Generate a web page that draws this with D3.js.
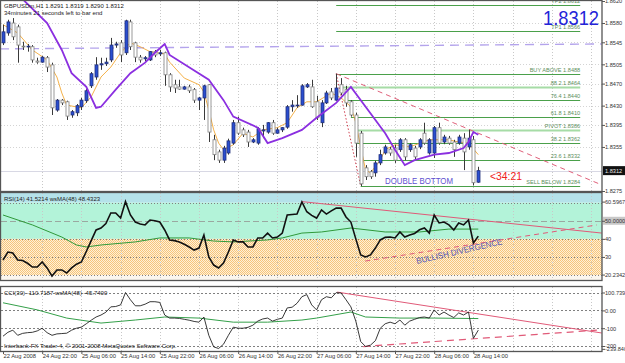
<!DOCTYPE html>
<html><head><meta charset="utf-8">
<script src="https://cdn.jsdelivr.net/npm/d3@7"></script>
<style>body{margin:0;background:#fff}svg{display:block;font-family:"Liberation Sans",Arial,sans-serif}</style>
</head><body><svg id="c" width="625" height="363"></svg>
<script>
// ---------- DATA ----------
const open=[1.8544,1.8562,1.8580,1.8573,1.8538,1.8537,1.8537,1.8511,1.8509,1.8517,
1.8504,1.8422,1.8440,1.8437,1.8413,1.8417,1.8428,1.8439,1.8466,1.8482,
1.8504,1.8506,1.8513,1.8540,1.8544,1.8526,1.8582,1.8544,1.8518,1.8515,
1.8513,1.8528,1.8524,1.8526,1.8486,1.8468,1.8464,1.8460,1.8464,1.8459,
1.8440,1.8444,1.8468,1.8368,1.8346,1.8331,1.8344,1.8362,1.8399,1.8386,
1.8382,1.8364,1.8362,1.8384,1.8382,1.8399,1.8380,1.8386,1.8391,1.8428,
1.8430,1.8431,1.8464,1.8464,1.8437,1.8399,1.8435,1.8455,1.8440,1.8468,
1.8459,1.8437,1.8413,1.8380,1.8317,1.8310,1.8308,1.8326,1.8344,1.8351,
1.8353,1.8350,1.8368,1.8350,1.8353,1.8355,1.8380,1.8344,1.8344,1.8390,
1.8364,1.8371,1.8364,1.8362,1.8371,1.8355,1.8368,1.8291];
const high=[1.8577,1.8586,1.8589,1.8577,1.8546,1.8542,1.8540,1.8517,1.8520,1.8520,
1.8508,1.8442,1.8442,1.8439,1.8422,1.8433,1.8444,1.8460,1.8491,1.8518,
1.8517,1.8517,1.8553,1.8546,1.8549,1.8586,1.8586,1.8546,1.8522,1.8520,
1.8529,1.8531,1.8531,1.8528,1.8489,1.8477,1.8477,1.8466,1.8468,1.8462,
1.8446,1.8468,1.8469,1.8377,1.8350,1.8357,1.8370,1.8404,1.8410,1.8390,
1.8386,1.8371,1.8391,1.8395,1.8400,1.8404,1.8390,1.8391,1.8431,1.8440,
1.8449,1.8469,1.8471,1.8477,1.8448,1.8440,1.8457,1.8462,1.8488,1.8480,
1.8466,1.8440,1.8417,1.8384,1.8322,1.8313,1.8330,1.8350,1.8359,1.8355,
1.8359,1.8371,1.8371,1.8362,1.8357,1.8371,1.8399,1.8371,1.8393,1.8399,
1.8377,1.8375,1.8368,1.8377,1.8380,1.8386,1.8375,1.8319];
const low=[1.8540,1.8557,1.8549,1.8508,1.8531,1.8528,1.8508,1.8506,1.8508,1.8491,
1.8413,1.8419,1.8431,1.8404,1.8408,1.8411,1.8422,1.8435,1.8462,1.8477,
1.8495,1.8502,1.8509,1.8535,1.8509,1.8522,1.8531,1.8509,1.8508,1.8511,
1.8511,1.8518,1.8520,1.8466,1.8455,1.8453,1.8459,1.8459,1.8453,1.8435,
1.8422,1.8404,1.8364,1.8331,1.8326,1.8326,1.8341,1.8359,1.8377,1.8373,
1.8355,1.8362,1.8359,1.8371,1.8379,1.8377,1.8379,1.8382,1.8388,1.8419,
1.8426,1.8430,1.8462,1.8426,1.8404,1.8391,1.8433,1.8440,1.8439,1.8449,
1.8428,1.8410,1.8337,1.8284,1.8295,1.8297,1.8301,1.8322,1.8341,1.8339,
1.8326,1.8346,1.8331,1.8346,1.8333,1.8351,1.8359,1.8341,1.8335,1.8359,
1.8360,1.8359,1.8337,1.8359,1.8313,1.8350,1.8285,1.8290];
const close=[1.8564,1.8582,1.8555,1.8540,1.8537,1.8538,1.8513,1.8509,1.8518,1.8500,
1.8426,1.8440,1.8435,1.8411,1.8419,1.8430,1.8440,1.8457,1.8488,1.8504,
1.8506,1.8509,1.8540,1.8542,1.8522,1.8584,1.8537,1.8518,1.8513,1.8517,
1.8528,1.8522,1.8526,1.8486,1.8464,1.8462,1.8460,1.8464,1.8457,1.8440,
1.8444,1.8466,1.8382,1.8341,1.8331,1.8353,1.8366,1.8399,1.8380,1.8377,
1.8364,1.8368,1.8388,1.8386,1.8399,1.8380,1.8386,1.8390,1.8428,1.8431,
1.8431,1.8466,1.8468,1.8428,1.8408,1.8435,1.8453,1.8444,1.8462,1.8453,
1.8435,1.8413,1.8362,1.8288,1.8301,1.8301,1.8326,1.8341,1.8355,1.8344,
1.8331,1.8368,1.8337,1.8359,1.8337,1.8368,1.8362,1.8368,1.8390,1.8362,
1.8373,1.8362,1.8350,1.8373,1.8346,1.8371,1.8290,1.8312];

const purpleIdx=[3,9,12,14,17,19,20,23,26,29,31,33,34,42,45,47,52,54,57,61,64,68,71,74,78,80,82,84,88,91,94,95,96,97];
const purpleVal=[1.8632,1.8580,1.8531,1.8489,1.8464,1.8426,1.8428,1.8459,1.8489,1.8508,1.8526,1.8542,1.8522,1.8477,1.8440,1.8410,1.8390,1.8362,1.8371,1.8386,1.8408,1.8435,1.8464,1.8428,1.8380,1.8350,1.8322,1.8331,1.8341,1.8344,1.8353,1.8364,1.8382,1.8377];
const orangeIdx=[0,3,6,9,11,12,13,16,18,20,22,24,26,28,30,33,34,37,40,41,42,43,44,45,47,49,51,53,56,58,60,62,64,67,69,71,72,73,74,75,77,78,80,83,87,91,93,95,97];
const orangeVal=[1.8577,1.8562,1.8531,1.8513,1.8482,1.8453,1.8431,1.8426,1.8446,1.8482,1.8500,1.8526,1.8544,1.8537,1.8528,1.8524,1.8509,1.8480,1.8468,1.8455,1.8422,1.8386,1.8362,1.8350,1.8359,1.8380,1.8373,1.8386,1.8390,1.8399,1.8426,1.8437,1.8437,1.8453,1.8444,1.8428,1.8399,1.8355,1.8313,1.8308,1.8331,1.8350,1.8359,1.8355,1.8368,1.8368,1.8364,1.8362,1.8341];

const fibLabels=["TP2 1.8612","TP1 1.8566","BUY ABOVE 1.8488","88.2  1.8464","76.4  1.8440","61.8  1.8410","PIVOT  1.8386","38.2  1.8362","23.6  1.8332","SELL BELOW  1.8284"];
const fibValues=[1.8612,1.8566,1.8488,1.8464,1.8440,1.8410,1.8386,1.8362,1.8332,1.8284];
const fibStart=[68,68,68,69,70,71,72,72,73,73];
const fibEnd=117.8;

const rsi=[28.3,32.7,32.2,28.3,28,26.5,24.4,24.4,27.2,23.9,
19.4,22.8,22.8,21.1,23.9,26,27.2,33,39,44.9,
46,48.5,54.3,54.3,51.5,60.5967,53.2,49.3,48.2,47.7,
50.4,50,49.3,44.9,39.4,39,38.3,37,35.5,33.8,
34.9,42.1,30,25.5,23.9,26.6,32.7,39.4,38.3,38.3,
35.5,35.5,40.5,40.5,43.2,40.5,41,43.2,53.2,53.5,
53.7,60.4,55,53,51.5,56,53.7,55.5,57.1,57,
52.1,49.3,40,31.1,30,31.1,34.9,39.4,40.8,41,
40.5,43.8,41,42.1,43,45,46,43.2,53.2,48.8,
49.3,47.7,44.9,48.8,47.7,50.4,37.7,41.5214];
const rsiMaIdx=[0,6,12,15,17,20,27,32,38,43,47,54,57,61,65,71,78,85,91,97];
const rsiMaVal=[53.2,47.7,41,36.6,35.5,36.6,38.3,40.5,40.5,38.8,38.3,39.4,40.5,43.2,43.8,46,43.8,43.8,45.4,45.4];
const cci=[-145,-123,-111,-140,-129,-125,-123,-115,-100,-125,
-140,-132,-130,-128,-111,-100,-94,-75,-55,-37,
-26,-10,20,22,31,100.739,60,26,26,35,
49,49,45,-26,-43,-43,-45,-50,-55,-62,
-66,-37,-140,-205,-214,-190,-140,-94,-100,-100,
-95,-83,-60,-48,-43,-60,-50,-43,14,18,
40,77,89,31,3,60,77,71,100,98,
60,20,-60,-175,-203,-195,-170,-100,-75,-66,
-75,-54,-83,-60,-50,-40,-37,-43,3,-26,
-9,-26,-40,-14,-26,-9,-157,-110.7187];
const cciMaIdx=[0,7,13,20,27,33,40,47,54,61,64,71,74,81,88,97];
const cciMaVal=[43,3,-43,-71,-54,-37,-43,-66,-66,-54,-43,-9,-37,-43,-43,-45.74];

const priceTicks=[1.8620,1.8580,1.8545,1.8505,1.8470,1.8430,1.8395,1.8355,1.8275];
const rsiTicks=["60.5967","50.0000","40","30","20.2342"];
const rsiTickVals=[60.5967,50,40,30,20.2342];
const cciTicks=["100.739","0.00","-100","-200","-239.840"];
const cciTickVals=[100.739,0,-100,-200,-216];
const timeLabels=["22 Aug 2008","24 Aug 22:00","25 Aug 06:00","25 Aug 14:00","25 Aug 22:00","26 Aug 06:00","26 Aug 14:00","26 Aug 22:00","27 Aug 06:00","27 Aug 14:00","27 Aug 22:00","28 Aug 06:00","28 Aug 14:00"];
const timeIdx=[0,8,16,24,32,40,48,56,64,72,80,88,96];

// trend lines [idx0,val0,idx1,val1]
const mainTrendDash=[68,1.8488,122.2,1.8286];
const mainTrendDot=[68,1.8488,73,1.8284];
const lavenderLine=[-0.6,1.8533,122.2,1.8542];
const rsiTrendSolid=[61,60.6,122.2,43.2];
const rsiTrendDash=[73.9,27.7,121.2,47.7];
const cciTrendSolid=[68.2,103,122.2,-127];
const cciTrendDash=[73.5,-203,121.2,-111];

// ---------- LAYOUT ----------
const svg=d3.select("#c");
const R=602;
const P={main:[1,191],rsi:[193,280],cci:[287,351]};
const x=d3.scaleLinear().domain([0,97]).range([3,478.3]);
const yP=d3.scaleLinear().domain([1.8275,1.8620]).range([191,1]);
const yR=d3.scaleLinear().domain([20,60]).range([275,202.7]);
const yC=d3.scaleLinear().domain([-200,100.739]).range([346,292.5]);
const fs=6;

const defs=svg.append("defs");
const pat=defs.append("pattern").attr("id","dots").attr("width",2).attr("height",2).attr("patternUnits","userSpaceOnUse");
pat.append("rect").attr("width",2).attr("height",2).attr("fill","#fff1d6");
pat.append("rect").attr("width",1).attr("height",1).attr("fill","#f6c47c");
pat.append("rect").attr("x",1).attr("y",1).attr("width",1).attr("height",1).attr("fill","#f6c47c");
Object.entries(P).forEach(([k,[t,b]])=>{
  defs.append("clipPath").attr("id","clip-"+k).append("rect").attr("x",1).attr("y",t).attr("width",R-1).attr("height",b-t);
});

svg.append("rect").attr("width",625).attr("height",363).attr("fill","#fff");

// RSI zones
const gR=svg.append("g").attr("clip-path","url(#clip-rsi)");
gR.append("rect").attr("x",1).attr("width",R-1).attr("y",P.rsi[0]).attr("height",yR(60)-P.rsi[0]).attr("fill","#b5e2ea");
gR.append("rect").attr("x",1).attr("width",R-1).attr("y",yR(60)).attr("height",yR(40)-yR(60)).attr("fill","#b3f3d9");
gR.append("rect").attr("x",1).attr("width",R-1).attr("y",yR(40)).attr("height",yR(20)-yR(40)).attr("fill","url(#dots)");
gR.append("rect").attr("x",1).attr("width",R-1).attr("y",yR(20)).attr("height",P.rsi[1]-yR(20)).attr("fill","#fbf6ee");

// vertical grid
[P.main,P.rsi,P.cci].forEach(([t,b])=>{
  svg.append("g").selectAll("line").data(timeIdx.slice(1).concat([104,112,120])).join("line")
   .attr("x1",d=>Math.round(x(d))+0.5).attr("x2",d=>Math.round(x(d))+0.5).attr("y1",t).attr("y2",b)
   .attr("stroke","#c8c8c8").attr("stroke-dasharray","1,2");
});
// horizontal grid main
svg.append("g").selectAll("line").data(priceTicks.slice(1,-1)).join("line")
  .attr("x1",1).attr("x2",R).attr("y1",d=>Math.round(yP(d))+0.5).attr("y2",d=>Math.round(yP(d))+0.5)
  .attr("stroke","#d4d4d4").attr("stroke-dasharray","1,2");
// RSI levels
[[60,"1,2"],[50,"6,3"],[40,"1,2"],[30,"1,2"],[20,"1,2"]].forEach(([v,da])=>{
  svg.append("line").attr("x1",1).attr("x2",R).attr("y1",Math.round(yR(v))+0.5).attr("y2",Math.round(yR(v))+0.5)
   .attr("stroke",v==50?"#9aa8a0":"#808080").attr("stroke-dasharray",da);
});
[100.739,0,-100,-200].forEach(v=>{
  svg.append("line").attr("x1",1).attr("x2",R).attr("y1",Math.round(yC(v))+0.5).attr("y2",Math.round(yC(v))+0.5)
   .attr("stroke","#808080").attr("stroke-dasharray","2,2");
});

// ---------- MAIN ----------
const gM=svg.append("g").attr("clip-path","url(#clip-main)");
const tl=(g,sc,p,col,w,da)=>g.append("line").attr("x1",x(p[0])).attr("y1",sc(p[1])).attr("x2",x(p[2])).attr("y2",sc(p[3]))
   .attr("stroke",col).attr("stroke-width",w).attr("stroke-dasharray",da||null);
const cp=close[close.length-1];
gM.append("line").attr("x1",1).attr("x2",R).attr("y1",Math.round(yP(cp))+0.5).attr("y2",Math.round(yP(cp))+0.5).attr("stroke","#d8d8e4");
tl(gM,yP,lavenderLine,"#b4a4ec",1.4,"9,6");
fibValues.forEach((v,i)=>{
  const light=(i==3||i==6);
  gM.append("line").attr("x1",x(fibStart[i])).attr("x2",x(fibEnd)).attr("y1",Math.round(yP(v))+0.5).attr("y2",Math.round(yP(v))+0.5)
    .attr("stroke",light?"#a6dca6":"#4aa04a").attr("stroke-width",light?2:1);
  gM.append("text").attr("x",x(fibEnd)).attr("y",Math.round(yP(v))-2).attr("text-anchor","end").attr("font-size",5.6)
    .attr("fill","#5c8f5c").text(fibLabels[i]);
});
tl(gM,yP,mainTrendDash,"#e0607a",1,"5,4");
tl(gM,yP,mainTrendDot,"#d04050",1,"1.5,2");
const line=(ix,vals,sc)=>d3.line().x((d,i)=>x(ix[i])).y(d=>sc(d))(vals);
gM.append("path").attr("d",line(orangeIdx,orangeVal,yP)).attr("fill","none").attr("stroke","#f5b24a").attr("stroke-width",1);
const bars=d3.range(open.length);
const cx=i=>Math.round(x(i))+0.5;
gM.append("g").selectAll("line").data(bars).join("line").attr("x1",cx).attr("x2",cx)
  .attr("y1",i=>yP(high[i])).attr("y2",i=>yP(low[i])).attr("stroke","#3a3a3a");
gM.append("g").selectAll("rect").data(bars).join("rect")
  .attr("x",i=>cx(i)-1.5).attr("width",3)
  .attr("y",i=>yP(Math.max(open[i],close[i]))).attr("height",i=>Math.max(0.8,Math.abs(yP(open[i])-yP(close[i]))))
  .attr("fill",i=>close[i]>=open[i]?"#2a4ed0":"#ffffff").attr("stroke",i=>close[i]>=open[i]?"#22307a":"#808080").attr("stroke-width",0.8);
gM.append("path").attr("d",line(purpleIdx,purpleVal,yP)).attr("fill","none").attr("stroke","#8b2fe0").attr("stroke-width",1.8);

svg.append("text").attr("x",4).attr("y",8).attr("font-size",fs).attr("fill","#222").text("GBPUSDm,H1  1.8291 1.8319 1.8290 1.8312");
svg.append("text").attr("x",4).attr("y",15).attr("font-size",fs).attr("fill","#222").text("34minutes 21 seconds left to bar end");
svg.append("text").attr("x",599).attr("y",25).attr("text-anchor","end").attr("font-size",21).attr("fill","#2424d8")
  .attr("textLength",56).attr("lengthAdjust","spacingAndGlyphs").text("1.8312");
svg.append("text").attr("x",385).attr("y",184).attr("font-size",9).attr("fill","#6050d0").attr("textLength",68).attr("lengthAdjust","spacingAndGlyphs").text("DOUBLE BOTTOM");
svg.append("text").attr("x",490).attr("y",180).attr("font-size",11).attr("fill","#f02020").attr("textLength",32).attr("lengthAdjust","spacingAndGlyphs").text("<34:21");

// ---------- RSI ----------
const gR2=svg.append("g").attr("clip-path","url(#clip-rsi)");
tl(gR2,yR,rsiTrendSolid,"#e05a78",1);
tl(gR2,yR,rsiTrendDash,"#e05a78",1,"5,4");
gR2.append("path").attr("d",line(rsiMaIdx,rsiMaVal,yR)).attr("fill","none").attr("stroke","#2f9a3a").attr("stroke-width",1);
gR2.append("path").attr("d",line(bars,rsi,yR)).attr("fill","none").attr("stroke","#111").attr("stroke-width",1.6);
svg.append("text").attr("transform","translate(417,264) rotate(-13)").attr("font-size",8.5).attr("fill","#5252b4").attr("textLength",88).attr("lengthAdjust","spacingAndGlyphs").text("BULLISH DIVERGENCE");
svg.append("text").attr("x",4).attr("y",201).attr("font-size",fs).attr("fill","#222").text("RSI(14) 41.5214  wsMA(48) 48.4323");

// ---------- CCI ----------
const gC=svg.append("g").attr("clip-path","url(#clip-cci)");
tl(gC,yC,cciTrendSolid,"#e05a78",1);
tl(gC,yC,cciTrendDash,"#e05a78",1.2,"7,5");
gC.append("path").attr("d",line(cciMaIdx,cciMaVal,yC)).attr("fill","none").attr("stroke","#35a04a").attr("stroke-width",1);
gC.append("path").attr("d",line(bars,cci,yC)).attr("fill","none").attr("stroke","#222").attr("stroke-width",0.9);
svg.append("text").attr("x",4).attr("y",295).attr("font-size",fs).attr("fill","#222").text("CCI(30) -110.7187  wsMA(48) -45.7400");
svg.append("text").attr("x",4).attr("y",348).attr("font-size",fs).attr("fill","#222").text("Interbank FX Trader 4, © 2001-2008 MetaQuotes Software Corp.");

// ---------- FRAMES & AXES ----------
Object.values(P).forEach(([t,b])=>{
  svg.append("rect").attr("x",0.5).attr("y",t-0.5).attr("width",R-0.5).attr("height",b-t+1).attr("fill","none").attr("stroke","#555").attr("stroke-width",1.3);
});
const ax=svg.append("g").attr("transform",`translate(${R},0)`);
ax.append("rect").attr("x",1).attr("y",yR(50)-4).attr("width",23).attr("height",8).attr("fill","#c8c8c8");
const aM=ax.append("g").call(d3.axisRight(yP).tickValues(priceTicks).tickFormat(d3.format(".4f")).tickSize(3).tickSizeOuter(0));
const aR=ax.append("g").call(d3.axisRight(yR).tickValues(rsiTickVals).tickFormat((d,i)=>rsiTicks[i]).tickSize(3).tickSizeOuter(0));
const aC=ax.append("g").call(d3.axisRight(yC).tickValues(cciTickVals).tickFormat((d,i)=>cciTicks[i]).tickSize(3).tickSizeOuter(0));
[aM,aR,aC].forEach(a=>a.attr("font-size",5.6).attr("font-family","Liberation Sans, Arial"));
ax.selectAll(".domain").remove();
ax.selectAll("text").attr("fill","#333").attr("x",3);
ax.selectAll("line").attr("stroke","#555");
ax.append("rect").attr("x",1).attr("y",yP(cp)-4.5).attr("width",23).attr("height",9).attr("fill","#111");
ax.append("text").attr("x",3).attr("y",yP(cp)+2).attr("fill","#e8e8e8").attr("font-size",5.6).text(d3.format(".4f")(cp));
// time axis
const gT=svg.append("g").attr("transform",`translate(0,${P.cci[1]})`);
gT.call(d3.axisBottom(x).tickValues(timeIdx).tickFormat((d,i)=>timeLabels[i]).tickSize(3).tickSizeOuter(0));
gT.attr("font-size",5.8).attr("font-family","Liberation Sans, Arial");
gT.select(".domain").remove();
gT.selectAll("text").attr("text-anchor","start").attr("x",0).attr("y",3).attr("dy","0.75em").attr("fill","#333");
gT.selectAll("line").attr("stroke","#555");
</script></body></html>
